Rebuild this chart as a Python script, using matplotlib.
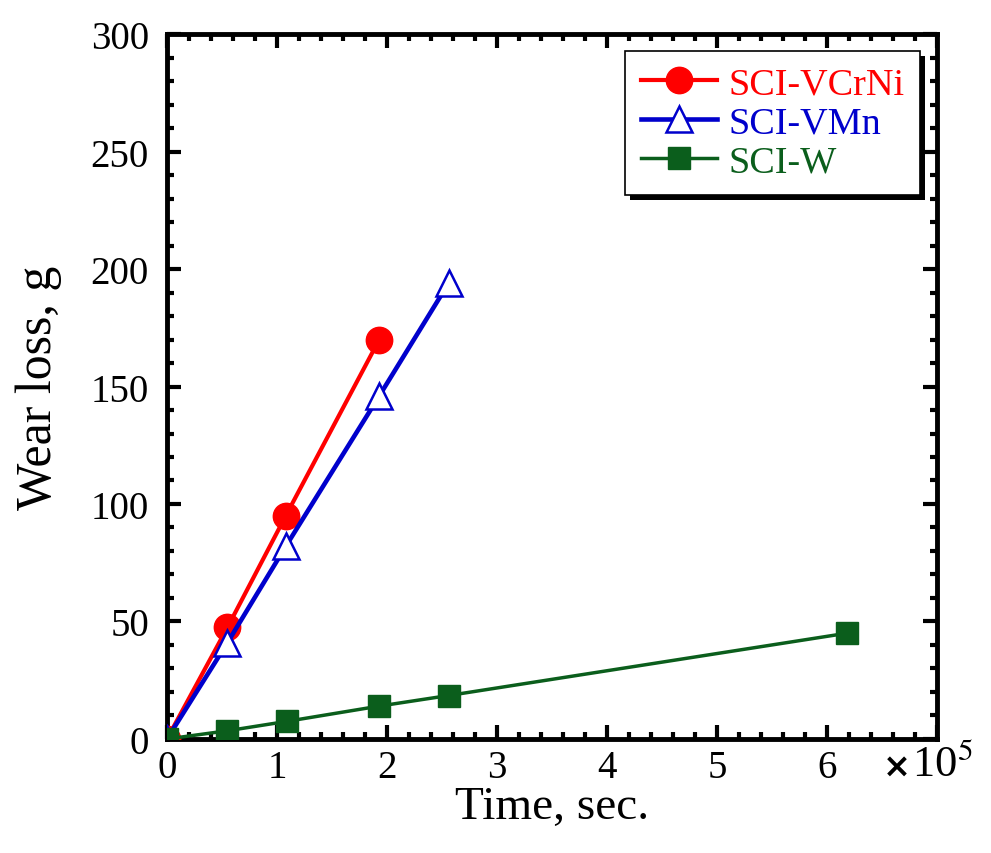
import matplotlib
matplotlib.use("Agg")
import matplotlib.pyplot as plt
from matplotlib.ticker import MultipleLocator, FuncFormatter
from matplotlib.patches import Rectangle

# data (time in seconds, wear loss in g)
time_vcrni = [0, 0.55e5, 1.08e5, 1.93e5]
wear_vcrni = [0, 47.5, 95, 170]

time_vmn = [0, 0.55e5, 1.08e5, 1.93e5, 2.56e5]
wear_vmn = [0, 41, 82, 146, 194]

time_w = [0, 0.55e5, 1.09e5, 1.93e5, 2.56e5, 6.18e5]
wear_w = [0, 3.5, 7.5, 14, 18.5, 45]

labels = ["SCI-VCrNi", "SCI-VMn", "SCI-W"]
colors = ["#ff0000", "#0000cc", "#0b5e1c"]

plt.rcParams["font.family"] = ["Liberation Serif", "DejaVu Serif"]
plt.rcParams["mathtext.fontset"] = "stix"

fig = plt.figure(figsize=(9.91, 8.54), dpi=100)
ax = fig.add_axes([0.1685, 0.1335, 0.777, 0.8255])

ax.plot(time_vcrni, wear_vcrni, color=colors[0], lw=3, marker="o",
        ms=19, label=labels[0], zorder=3)
ax.plot(time_vmn, wear_vmn, color=colors[1], lw=3.3, marker="^", ms=19,
        mfc="white", mec=colors[1], mew=1.8, label=labels[1], zorder=3)
ax.plot(time_w, wear_w, color=colors[2], lw=2.5, marker="s", ms=16,
        label=labels[2], zorder=4)

ax.set_xlim(0, 7e5)
ax.set_ylim(0, 300)
ax.xaxis.set_major_locator(MultipleLocator(1e5))
ax.xaxis.set_minor_locator(MultipleLocator(0.2e5))
ax.yaxis.set_major_locator(MultipleLocator(50))
ax.yaxis.set_minor_locator(MultipleLocator(10))
ax.xaxis.set_major_formatter(FuncFormatter(
    lambda v, p: "" if v > 6.5e5 else "%d" % round(v / 1e5)))

ax.tick_params(which="both", direction="in", top=True, right=True,
               labelsize=28, width=3)
ax.tick_params(axis="x", pad=7)
ax.tick_params(axis="y", pad=13)
ax.tick_params(which="major", length=10)
ax.tick_params(which="minor", length=5)
for s in ax.spines.values():
    s.set_linewidth(3.5)

ax.set_xlabel("Time, sec.", fontsize=34, labelpad=0)
ax.set_ylabel("Wear loss, g", fontsize=36, labelpad=21)
ax.text(0.966, -0.038, "×", transform=ax.transAxes, fontsize=24,
        family="DejaVu Sans", weight="bold", ha="right", va="center")
ax.text(0.9675, -0.036, "10$^5$", transform=ax.transAxes, fontsize=32,
        ha="left", va="center")

leg = ax.legend(loc="upper right", fontsize=27.5, fancybox=False,
                edgecolor="black", framealpha=1, borderaxespad=0.45,
                handlelength=2.0, handletextpad=0.3, labelspacing=0.12,
                borderpad=0.4)
leg.get_frame().set_linewidth(1.2)
for t, c in zip(leg.get_texts(), colors):
    t.set_color(c)

# hard black drop shadow behind the legend box
fig.canvas.draw()
bb = leg.get_window_extent().transformed(ax.transAxes.inverted())
dx = 5 / (ax.bbox.width)
dy = 5 / (ax.bbox.height)
ax.add_patch(Rectangle((bb.x0 + dx, bb.y0 - dy), bb.width, bb.height,
                       transform=ax.transAxes, facecolor="black",
                       edgecolor="none", zorder=4.9, clip_on=False))

fig.savefig("out.png", dpi=100)
